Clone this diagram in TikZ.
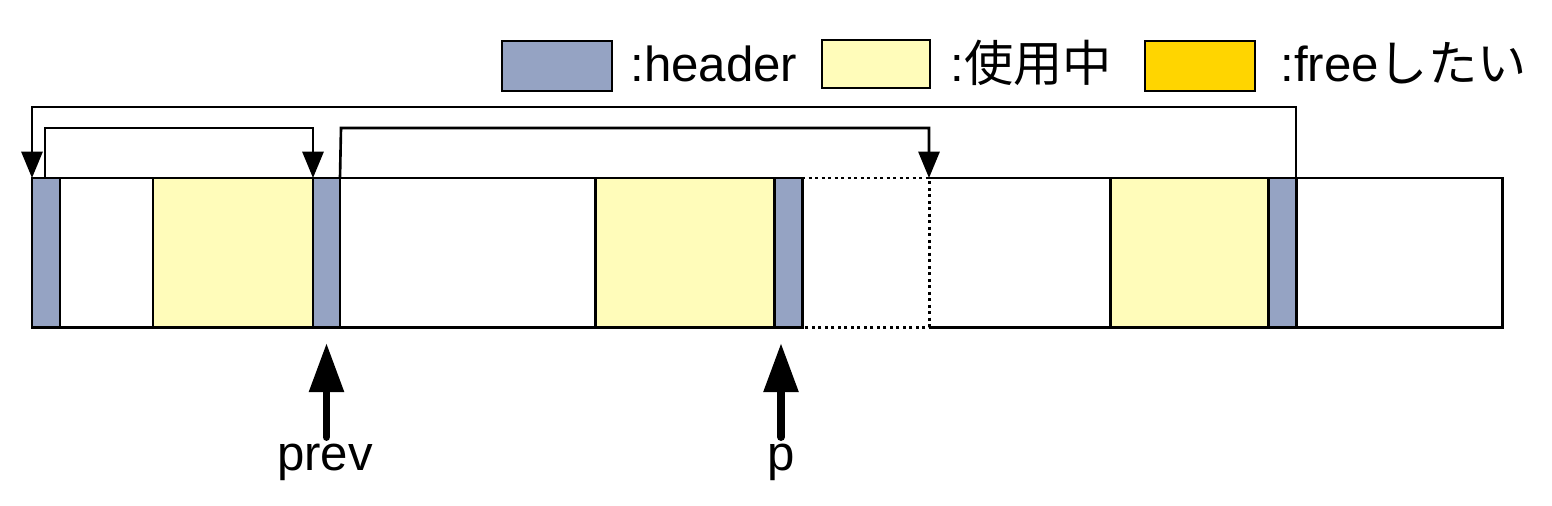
\documentclass[tikz,border=0pt]{standalone}
\usepackage{fontspec}
\setmainfont{Liberation Sans}
\newfontfamily\jpfont{Noto Sans CJK JP}
\usetikzlibrary{arrows.meta}

\definecolor{hdrblue}{RGB}{149,163,195}
\definecolor{usedyellow}{RGB}{255,252,186}
\definecolor{freeorange}{RGB}{255,213,0}

\tikzset{
  wall/.style={line width=1.7pt},
  hdr/.style={draw, fill=hdrblue, line width=1.7pt, inner sep=0pt, outer sep=0pt, minimum height=2.98cm},
  used/.style={draw, fill=usedyellow, line width=1.7pt, inner sep=0pt, outer sep=0pt, minimum height=2.98cm},
  keybox/.style={draw, line width=1.3pt, inner sep=0pt, minimum width=2.2cm, minimum height=1.0cm},
  keytext/.style={anchor=base west, inner sep=0pt, font=\fontsize{28}{33}\selectfont},
  ptrtext/.style={anchor=base, inner sep=0pt, font=\fontsize{28}{33}\selectfont},
}

\begin{document}
\begin{tikzpicture}[
    link/.style={line width=1.5pt, -{Triangle[width=12pt,length=15pt]}},
    bigptr/.style={line width=4.5pt, line cap=round, -{Triangle[width=19pt,length=28pt]}}]
    \useasboundingbox (0,0) rectangle (31.04,-10.1);

    % legend
    \node[keybox, fill=hdrblue] (khdr) at (11.14,-1.32) {};
    \node[keytext] (thdr) at (12.6,-1.62) {:header};
    \node[keybox, fill=usedyellow, minimum width=2.16cm, minimum height=0.96cm] (kused) at (17.52,-1.28) {};
    \node[keytext] (tused) at (19.0,-1.62) {:{\jpfont 使用中}};
    \node[keybox, fill=freeorange] (kfree) at (24.0,-1.32) {};
    \node[keytext] (tfree) at (25.6,-1.62) {:free{\jpfont したい}};

    % memory
    \draw[wall] (16.04,-3.56) -- (0.64,-3.56) -- (0.64,-6.54) -- (16.04,-6.54);
    \draw[wall] (18.58,-3.56) -- (30.04,-3.56) -- (30.04,-6.54) -- (18.58,-6.54);
    \draw[wall, dotted] (16.04,-3.56) -- (18.58,-3.56) -- (18.58,-6.54) -- (16.04,-6.54);
    \coordinate (cut) at (18.58,-3.56);

    \node[used, minimum width=3.2cm] (u1) at (4.66,-5.05) {};
    \node[used, minimum width=3.58cm] (u2) at (13.69,-5.05) {};
    \node[used, minimum width=3.16cm] (u3) at (23.78,-5.05) {};

    \node[hdr, minimum width=0.56cm] (h1) at (0.92,-5.05) {};
    \node[hdr, minimum width=0.54cm] (h2) at (6.53,-5.05) {};
    \node[hdr, minimum width=0.56cm] (h3) at (15.76,-5.05) {};
    \node[hdr, minimum width=0.56cm] (h4) at (25.64,-5.05) {};

    % free list
    \draw[link] (h4.north east) -- ++(0,1.42) -| (h1.north west);
    \draw[link] ([xshift=-0.02cm]h1.north) -- ++(0,1.0) -| (h2.north west);
    \draw[link] (h2.north east) -- ++(0.02,1.0) -| (cut);

    % pointers
    \coordinate (prevtail) at (6.53,-8.74);
    \coordinate (ptail) at (15.62,-8.74);
    \draw[bigptr] (prevtail) -- (prevtail |- 0,-6.86);
    \draw[bigptr] (ptail) -- (ptail |- 0,-6.86);
    \node[ptrtext] (prev) at (6.5,-9.4) {prev};
    \node[ptrtext] (p) at (15.62,-9.4) {p};
\end{tikzpicture}
\end{document}
